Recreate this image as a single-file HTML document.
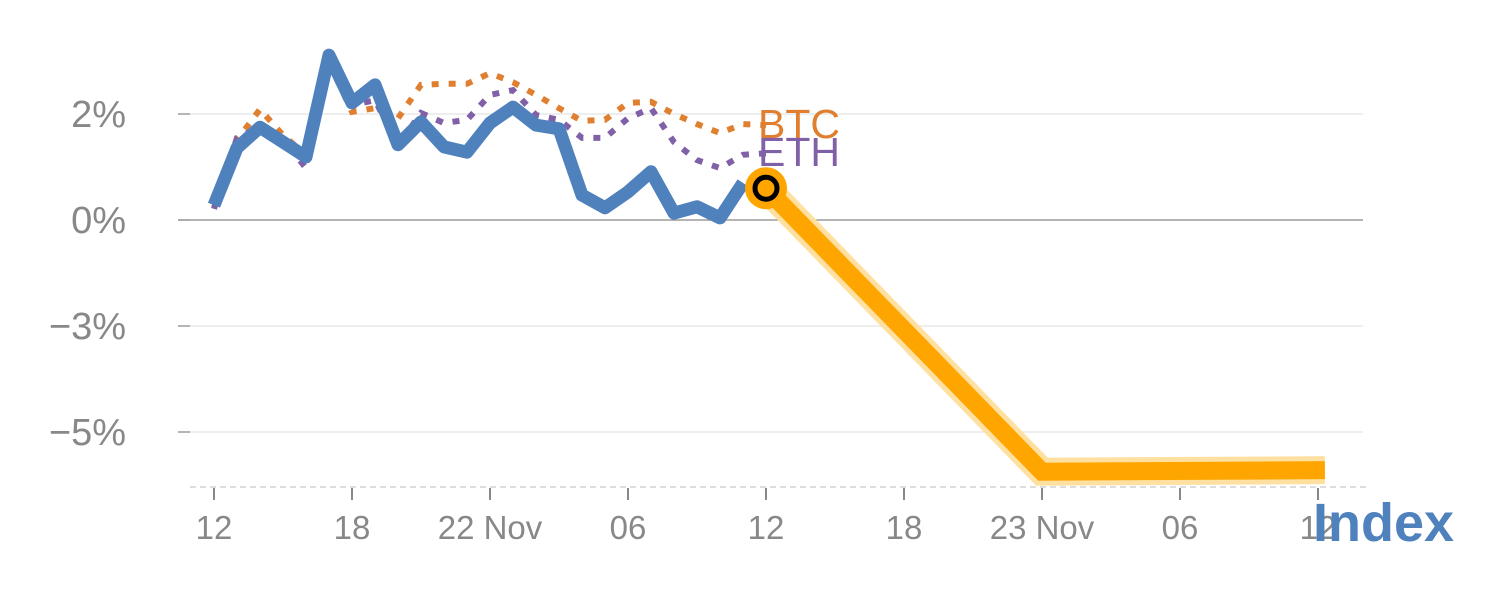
<!DOCTYPE html>
<html><head><meta charset="utf-8"><style>
html,body{margin:0;padding:0;background:#fff;}
svg{display:block;font-family:"Liberation Sans",sans-serif;}
</style></head><body>
<svg id="chart" width="1500" height="600" viewBox="0 0 1500 600" xmlns="http://www.w3.org/2000/svg">
<g id="grid"></g>
<g id="yaxis"></g>
<g id="xaxis"></g>
<g id="series"></g>
<text x="1313" y="541" font-size="54" font-weight="bold" fill="#4f81bd">Index</text>
</svg>
<script>
const hoursBlue = [0,1,2,3,4,5,6,7,8,9,10,11,12,13,14,15,16,17,18,19,20,21,22,23];
const indexValues = [0.28,1.36,1.75,1.47,1.19,3.11,2.21,2.55,1.42,1.85,1.38,1.28,1.83,2.13,1.79,1.72,0.47,0.23,0.53,0.91,0.13,0.25,0.04,0.70];
const hoursPeer = [0,1,2,3,4,5,6,7,8,9,10,11,12,13,14,15,16,17,18,19,20,21,22,23,24];
const btcValues = [0.23,1.51,2.09,1.60,1.23,2.98,2.04,2.11,1.92,2.55,2.57,2.57,2.77,2.60,2.36,2.11,1.87,1.89,2.21,2.23,2.00,1.81,1.64,1.81,1.79];
const ethValues = [0.21,1.55,1.75,1.51,0.98,3.06,2.17,2.26,1.40,2.02,1.83,1.89,2.36,2.45,1.98,1.89,1.55,1.55,1.92,2.11,1.47,1.13,0.98,1.23,1.26];
const forecastHours = [24,36,48.3];
const forecastValues = [0.6,-4.75,-4.72];
const yTickValues = [2,0,-2,-4];
const yTickLabels = ["2%","0%","\u22123%","\u22125%"];
const xTickHours = [0,6,12,18,24,30,36,42,48];
const xTickLabels = ["12","18","22 Nov","06","12","18","23 Nov","06","12"];

const NS="http://www.w3.org/2000/svg";
const xs = h => 214 + 23*h;
const ys = v => 220 - 53*v;
function mk(tag, parent, attrs){const e=document.createElementNS(NS,tag);for(const k in attrs)e.setAttribute(k,attrs[k]);parent.appendChild(e);return e;}
const grid=document.getElementById('grid'), ya=document.getElementById('yaxis'), xa=document.getElementById('xaxis'), se=document.getElementById('series');

yTickValues.forEach((v,i)=>{
  const g=mk('line',grid,{x1:178,x2:1363,y1:ys(v),y2:ys(v),stroke:v===0?'#888':'#e3e3e3','stroke-width':1.2});
  
  
  const t=mk('line',ya,{x1:178,x2:190,y1:ys(v),y2:ys(v),stroke:'#888','stroke-width':1.2});
  
  
  const l=mk('text',ya,{x:126,y:ys(v)+13,'text-anchor':'end','font-size':38,fill:'#888'});
  l.textContent=yTickLabels[i];
  
  
});
const base=mk('line',xa,{x1:190,x2:1366,y1:487,y2:487,stroke:'#ddd','stroke-width':2,'stroke-dasharray':'6,4'});


xTickHours.forEach((h,i)=>{
  const t=mk('line',xa,{x1:xs(h),x2:xs(h),y1:488,y2:500,stroke:'#888','stroke-width':2});
  
  
  const l=mk('text',xa,{x:xs(h),y:539,'text-anchor':'middle','font-size':33,fill:'#888'});
  l.textContent=xTickLabels[i];
  
  
});
function pts(hs,vs){return hs.map((h,i)=>xs(h)+','+ys(vs[i])).join(' ');}
const halo=mk('polyline',se,{points:pts(forecastHours,forecastValues),fill:'none',stroke:'#ffe0a0','stroke-width':28,'stroke-linejoin':'miter'});


const fc=mk('polyline',se,{points:pts(forecastHours,forecastValues),fill:'none',stroke:'#ffa500','stroke-width':18,'stroke-linejoin':'miter'});


const btc=mk('polyline',se,{points:pts(hoursPeer,btcValues),fill:'none',stroke:'#e07f2f','stroke-width':6,'stroke-dasharray':'7,10'});


const eth=mk('polyline',se,{points:pts(hoursPeer,ethValues),fill:'none',stroke:'#8061a8','stroke-width':6,'stroke-dasharray':'7,10'});


const idx=mk('polyline',se,{points:pts(hoursBlue,indexValues),fill:'none',stroke:'#4f81bd','stroke-width':13,'stroke-linejoin':'round'});


const c1=mk('circle',se,{cx:xs(forecastHours[0]),cy:ys(forecastValues[0]),r:21,fill:'#ffa500'});


const c2=mk('circle',se,{cx:xs(forecastHours[0]),cy:ys(forecastValues[0]),r:11,fill:'#ffa500',stroke:'#000','stroke-width':5});


const bl=mk('text',se,{x:758,y:ys(btcValues[24])+13,'font-size':41,fill:'#e07f2f'});
bl.textContent='BTC';


const el=mk('text',se,{x:758,y:ys(ethValues[24])+13,'font-size':41,fill:'#8061a8'});
el.textContent='ETH';


</script>
</body></html>
